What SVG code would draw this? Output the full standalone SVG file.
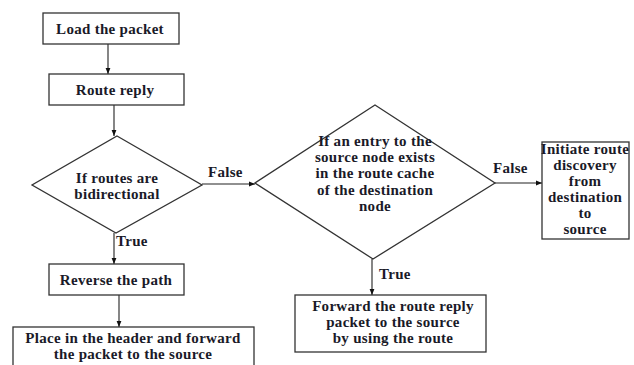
<svg xmlns="http://www.w3.org/2000/svg" width="634" height="365" viewBox="0 0 634 365">
<defs>
<marker id="ah" viewBox="0 0 10 10" refX="10" refY="5" markerWidth="6" markerHeight="6" orient="auto" markerUnits="userSpaceOnUse">
<path d="M0,1 L10,5 L0,9 Z" fill="#111"/>
</marker>
<style>
.box{fill:#fff;stroke:#333;stroke-width:1.3}
.t{font-family:"Liberation Serif","Times New Roman",serif;font-weight:bold;font-size:15px;letter-spacing:0.3px;fill:#1a1a28;text-anchor:middle}
.l{font-family:"Liberation Serif","Times New Roman",serif;font-weight:bold;font-size:15px;letter-spacing:0.3px;fill:#1a1a28}
.c{fill:none;stroke:#222;stroke-width:1.1}
</style>
</defs>
<rect width="634" height="365" fill="#fff"/>
<g id="connectors">
<line class="c" x1="108" y1="44" x2="108" y2="74" marker-end="url(#ah)"/>
<line class="c" x1="114" y1="105" x2="114" y2="136" marker-end="url(#ah)"/>
<line class="c" x1="202" y1="184" x2="255" y2="184" marker-end="url(#ah)"/>
<line class="c" x1="114" y1="233" x2="114" y2="264" marker-end="url(#ah)"/>
<line class="c" x1="119" y1="295" x2="119" y2="327" marker-end="url(#ah)"/>
<line class="c" x1="372" y1="259" x2="372" y2="295" marker-end="url(#ah)"/>
<line class="c" x1="495" y1="183" x2="542" y2="183" marker-end="url(#ah)"/>
<text class="l" x="208" y="177">False</text>
<text class="l" x="116" y="246">True</text>
<text class="l" x="379" y="279">True</text>
<text class="l" x="493" y="173">False</text>
</g>
<g id="load">
<rect class="box" x="43" y="13" width="136" height="31"/>
<text class="t" x="110" y="34">Load the packet</text>
</g>
<g id="routereply">
<rect class="box" x="49" y="74" width="135" height="31"/>
<text class="t" x="115" y="95">Route reply</text>
</g>
<g id="bidir">
<polygon class="box" points="117,136 202,185 116,233 32,185"/>
<text class="t" x="117" y="183">If routes are</text>
<text class="t" x="117" y="199">bidirectional</text>
</g>
<g id="reverse">
<rect class="box" x="49" y="264" width="135" height="31"/>
<text class="t" x="116" y="285">Reverse the path</text>
</g>
<g id="place">
<rect class="box" x="13" y="327" width="241" height="45"/>
<text class="t" x="133" y="343">Place in  the header and forward</text>
<text class="t" x="133" y="359">the packet to the source</text>
</g>
<g id="entry">
<polygon class="box" points="375,105 495,183 373,259 255,183"/>
<text class="t" x="375" y="146">If an entry to the</text>
<text class="t" x="375" y="162">source node exists</text>
<text class="t" x="375" y="178">in the route cache</text>
<text class="t" x="375" y="195">of the destination</text>
<text class="t" x="375" y="211">node</text>
</g>
<g id="forward">
<rect class="box" x="295" y="295" width="191" height="57"/>
<text class="t" x="393" y="311">Forward the route reply</text>
<text class="t" x="393" y="327">packet to the source</text>
<text class="t" x="393" y="343">by using the route</text>
</g>
<g id="initiate">
<rect class="box" x="542" y="142" width="87" height="97"/>
<text class="t" x="585" y="154">Initiate route</text>
<text class="t" x="585" y="170">discovery</text>
<text class="t" x="585" y="186">from</text>
<text class="t" x="585" y="202">destination</text>
<text class="t" x="585" y="218">to</text>
<text class="t" x="585" y="234">source</text>
</g>
</svg>
